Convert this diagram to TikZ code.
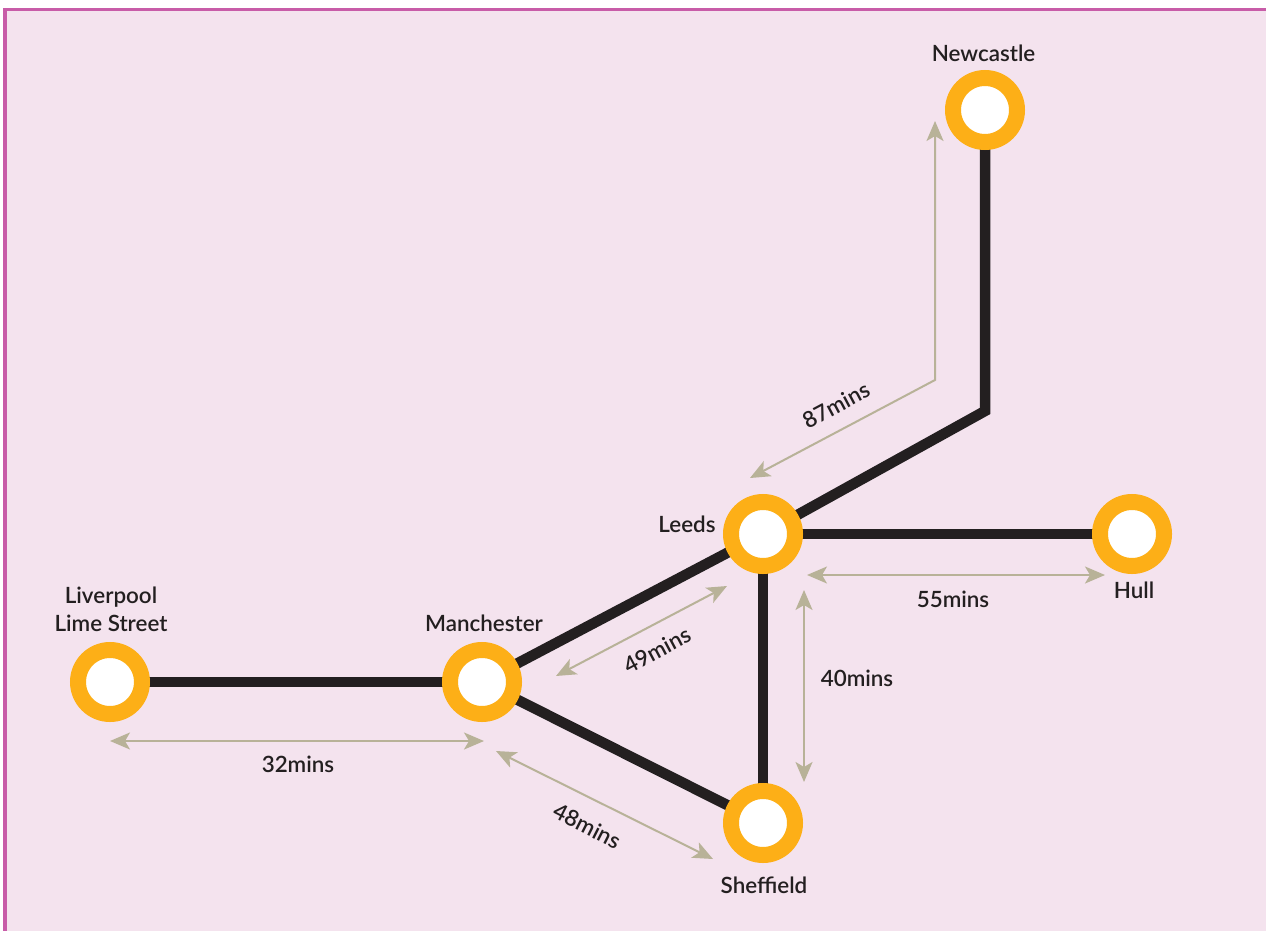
\documentclass[tikz,border=0pt]{standalone}
\usepackage{fontspec}
\setmainfont{Lato}[UprightFont=* Semibold]
\usetikzlibrary{arrows.meta,backgrounds}
\definecolor{panel}{HTML}{F4E3EE}
\definecolor{edgepink}{HTML}{C85CA8}
\definecolor{ringc}{HTML}{FDAF17}
\definecolor{track}{HTML}{231F20}
\definecolor{span}{HTML}{B8B298}
\tikzset{
  station/.style={circle,draw=ringc,line width=16pt,fill=white,minimum size=64pt,inner sep=0pt},
  trackline/.style={draw=track,line width=10.5pt,line join=miter},
  spanline/.style={draw=span,line width=2pt,{Stealth[length=20pt,width=17pt,inset=5pt]}-{Stealth[length=20pt,width=17pt,inset=5pt]}},
  lbl/.style={inner sep=0pt,text=track,font=\fontsize{22.4}{28}\selectfont,align=center}
}
\begin{document}
\begin{tikzpicture}[x=1pt,y=-1pt]
\useasboundingbox (0,0) rectangle (1266,931);
\node[station] (newcastle) at (985,110) {};
\node[station] (leeds) at (763,534) {};
\node[station] (hull) at (1132,534) {};
\node[station] (manchester) at (482,682) {};
\node[station] (liverpool) at (110,682) {};
\node[station] (sheffield) at (763,823) {};
\coordinate (bend) at (985,411);
\begin{scope}[on background layer]
\fill[edgepink] (3,8) rectangle (1266,931);
\fill[panel] (7,11.5) rectangle (1266,931);
\draw[trackline] (newcastle.center) -- (bend) -- (leeds.center);
\draw[trackline] (leeds.center) -- (hull.center);
\draw[trackline] (leeds.center) -- (sheffield.center);
\draw[trackline] (leeds.center) -- (manchester.center);
\draw[trackline] (manchester.center) -- (sheffield.center);
\draw[trackline] (liverpool.center) -- (manchester.center);
\end{scope}
\coordinate (a1) at (935,121);
\coordinate (a2) at (935,380);
\coordinate (a3) at (750,478);
\draw[spanline] (a1) -- (a2) -- (a3);
\coordinate (b1) at (807,575);
\coordinate (b2) at (1105,575);
\draw[spanline] (b1) -- (b2);
\coordinate (c1) at (804,590);
\coordinate (c2) at (804,782);
\draw[spanline] (c1) -- (c2);
\coordinate (d1) at (727,586);
\coordinate (d2) at (556,676);
\draw[spanline] (d1) -- (d2);
\coordinate (e1) at (110,741);
\coordinate (e2) at (484,741);
\draw[spanline] (e1) -- (e2);
\coordinate (f1) at (496,751);
\coordinate (f2) at (713,859);
\draw[spanline] (f1) -- (f2);
\node[lbl] (tnew) at (983.5,53.5) {Newcastle};
\node[lbl] (tleeds) at (687,524.5) {Leeds};
\node[lbl] (thull) at (1134,590.5) {Hull};
\node[lbl] (tman) at (484,623.5) {Manchester};
\node[lbl] (tliv) at (111,609.5) {Liverpool\\Lime Street};
\node[lbl] (tshef) at (764,885.5) {Sheffield};
\node[lbl,rotate=28] (t87) at (836,405) {87mins};
\node[lbl] (t55) at (953,599.5) {55mins};
\node[lbl] (t40) at (857,678.5) {40mins};
\node[lbl,rotate=28] (t49) at (657,650) {49mins};
\node[lbl] (t32) at (298,764.5) {32mins};
\node[lbl,rotate=-27] (t48) at (587,826) {48mins};
\end{tikzpicture}
\end{document}
